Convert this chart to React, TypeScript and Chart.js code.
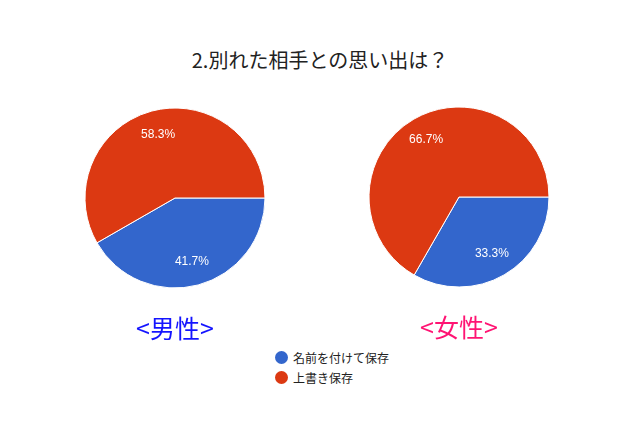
import React, { useEffect, useRef } from "react";
import { Chart, registerables } from "chart.js";

Chart.register(...registerables);

const titleText = "2.別れた相手との思い出は？";
const categories = ["名前を付けて保存", "上書き保存"];
const sliceColors = ["#3366cc", "#dc3912"];
const maleValues = [41.7, 58.3];
const femaleValues = [33.3, 66.7];
const maleLabel = "<男性>";
const femaleLabel = "<女性>";

const JP = '"Noto Sans CJK JP", "Noto Sans", sans-serif';

const pctPlugin = {
  id: "pctLabels",
  afterDatasetsDraw(chart: any) {
    const ctx = chart.ctx;
    const meta = chart.getDatasetMeta(0);
    const values = chart.data.datasets[0].data as number[];
    ctx.save();
    ctx.fillStyle = "#ffffff";
    ctx.font = '12px "Liberation Sans", Arial, sans-serif';
    ctx.textAlign = "center";
    ctx.textBaseline = "middle";
    meta.data.forEach((arc: any, i: number) => {
      const p = arc.getProps(["x", "y", "startAngle", "endAngle", "outerRadius"], true);
      const mid = (p.startAngle + p.endAngle) / 2;
      const r = p.outerRadius * 0.73;
      ctx.fillText(values[i].toFixed(1) + "%", p.x + Math.cos(mid) * r, p.y + Math.sin(mid) * r);
    });
    ctx.restore();
  },
};

function PieChart({ values, label, color, left, top }: { values: number[]; label: string; color: string; left: number; top: number }) {
  const ref = useRef<HTMLCanvasElement>(null);
  useEffect(() => {
    if (!ref.current) return;
    const chart = new Chart(ref.current, {
      type: "pie",
      data: {
        labels: categories,
        datasets: [
          {
            data: values,
            backgroundColor: sliceColors,
            borderColor: "#ffffff",
            borderWidth: 1,
          },
        ],
      },
      options: {
        animation: false,
        responsive: false,
        maintainAspectRatio: false,
        rotation: 90,
        radius: 90,
        layout: { padding: 0 },
        plugins: {
          legend: { display: false },
          tooltip: { enabled: false },
          title: {
            display: true,
            position: "bottom",
            text: label,
            color,
            font: { family: JP, size: 25, weight: "normal", lineHeight: 1.2 },
            padding: { top: 0, bottom: 0 },
          },
        },
      } as any,
      plugins: [pctPlugin],
    });
    return () => chart.destroy();
  }, []);
  return (
    <div style={{ position: "absolute", left, top, width: 260, height: 260 }}>
      <canvas ref={ref} width={260} height={260} style={{ width: 260, height: 260 }} />
    </div>
  );
}

export default function App() {
  return (
    <div style={{ position: "fixed", left: 0, top: 0, width: 640, height: 427, background: "#fff", overflow: "hidden" }}>
      <div
        style={{
          position: "absolute",
          left: 0,
          top: 46,
          width: 640,
          textAlign: "center",
          fontFamily: JP,
          fontSize: 20,
          lineHeight: "28px",
          color: "#222",
        }}
      >
        {titleText}
      </div>
      <PieChart values={maleValues} label={maleLabel} color="#1414ff" left={45} top={83} />
      <PieChart values={femaleValues} label={femaleLabel} color="#ff1473" left={329} top={82} />
      <div style={{ position: "absolute", left: 275, top: 347, fontFamily: JP, fontSize: 12, color: "#222" }}>
        {categories.map((c, i) => (
          <div key={c} style={{ display: "flex", alignItems: "center", height: 20 }}>
            <span
              style={{
                display: "inline-block",
                width: 13,
                height: 13,
                borderRadius: "50%",
                background: sliceColors[i],
                marginRight: 5,
              }}
            />
            <span>{c}</span>
          </div>
        ))}
      </div>
    </div>
  );
}
